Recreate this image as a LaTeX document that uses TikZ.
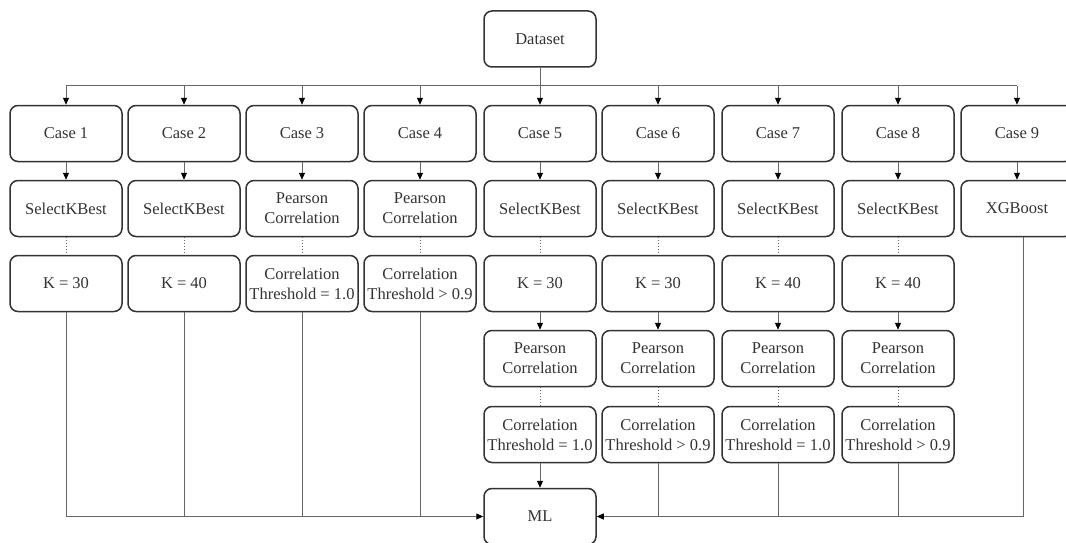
\documentclass[tikz,border=0pt]{standalone}
\usepackage{fontspec}
\setmainfont{Liberation Serif}
\newfontfamily\tnrfont{Liberation Serif}
\usetikzlibrary{arrows.meta}
\begin{document}
\begin{tikzpicture}[x=1pt,y=-1pt,
 box/.style={draw=black!80, line width=1.5pt, rounded corners=8pt, minimum width=112pt, minimum height=56pt, align=center, font=\tnrfont\fontsize{16.5}{20}\selectfont, text=black!80, inner sep=0pt, fill=white},
 conn/.style={draw=black!60, line width=1pt},
 arr/.style={conn, -{Triangle[length=7pt,width=6pt,color=black]}},
 dotl/.style={draw=black!60, line width=1pt, dotted}]
\useasboundingbox[fill=white] (0,0) rectangle (1066,543);
% top
\node[box] (ds) at (540,39) {Dataset};
% cases
\foreach \i/\x in {1/66,2/184,3/302,4/420,5/540,6/658,7/778,8/898,9/1017}{
  \node[box] (c\i) at (\x,133.5) {Case \i};
}
% row 2
\foreach \i/\x/\t in {1/66/SelectKBest,2/184/SelectKBest,3/302/{Pearson\\Correlation},4/420/{Pearson\\Correlation},5/540/SelectKBest,6/658/SelectKBest,7/778/SelectKBest,8/898/SelectKBest,9/1017/XGBoost}{
  \node[box] (r2-\i) at (\x,208.5) {\t};
}
% row 3
\foreach \i/\x/\t in {1/66/{K = 30},2/184/{K = 40},3/302/{Correlation\\Threshold = 1.0},4/420/{Correlation\\Threshold > 0.9},5/540/{K = 30},6/658/{K = 30},7/778/{K = 40},8/898/{K = 40}}{
  \node[box] (r3-\i) at (\x,283.5) {\t};
}
% row 4
\foreach \i/\x in {5/540,6/658,7/778,8/898}{
  \node[box] (r4-\i) at (\x,358.5) {Pearson\\Correlation};
}
% row 5
\foreach \i/\x/\t in {5/540/{Correlation\\Threshold = 1.0},6/658/{Correlation\\Threshold > 0.9},7/778/{Correlation\\Threshold = 1.0},8/898/{Correlation\\Threshold > 0.9}}{
  \node[box] (r5-\i) at (\x,434.5) {\t};
}
% ML
\node[box] (ml) at (540,516.5) {ML};
\coordinate (busy) at (0,86);
% top bus
\draw[conn] (c1.north |- busy) -- (c9.north |- busy);
\draw[arr] (ds.south) -- (c5.north);
\foreach \i in {1,2,3,4,6,7,8,9}{
  \draw[arr] (c\i.north |- busy) -- (c\i.north);
}
% case -> row 2
\foreach \i in {1,...,9}{
  \draw[arr] (c\i.south) -- (r2-\i.north);
}
% row 2 -> row 3 dotted
\foreach \i in {1,...,8}{
  \draw[dotl] (r2-\i.south) -- (r3-\i.north);
}
% row 3 -> row 4, row 4 -> row 5
\foreach \i in {5,...,8}{
  \draw[arr] (r3-\i.south) -- (r4-\i.north);
  \draw[dotl] (r4-\i.south) -- (r5-\i.north);
}
\draw[arr] (r5-5.south) -- (ml.north);
% left collection
\foreach \i in {1,...,4}{
  \draw[conn] (r3-\i.south) -- (r3-\i.south |- ml.west);
}
\draw[arr] (r3-1.south |- ml.west) -- (ml.west);
% right collection
\foreach \i in {6,7,8}{
  \draw[conn] (r5-\i.south) -- (r5-\i.south |- ml.east);
}
\coordinate (xgb) at ([xshift=6pt]r2-9.south);
\draw[conn] (xgb) -- (xgb |- ml.east);
\draw[arr] (xgb |- ml.east) -- (ml.east);
\end{tikzpicture}
\end{document}
